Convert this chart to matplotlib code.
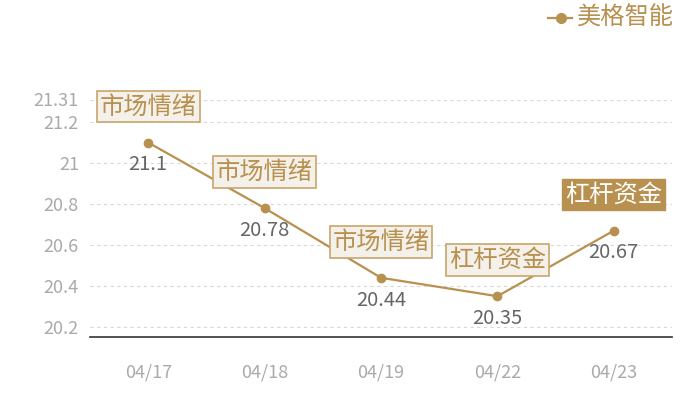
import matplotlib
matplotlib.use("Agg")
import matplotlib.pyplot as plt

plt.rcParams['font.family'] = ['Noto Sans CJK SC', 'DejaVu Sans']

# data
dates = ["04/17", "04/18", "04/19", "04/22", "04/23"]
prices = [21.1, 20.78, 20.44, 20.35, 20.67]
tags = ["市场情绪", "市场情绪", "市场情绪", "杠杆资金", "杠杆资金"]
highlight = [False, False, False, False, True]
yticks = [20.2, 20.4, 20.6, 20.8, 21, 21.2, 21.31]
ytick_labels = ["20.2", "20.4", "20.6", "20.8", "21", "21.2", "21.31"]
series_name = "美格智能"

gold = "#b8904f"

fig = plt.figure(figsize=(7, 4), dpi=100)
ax = fig.add_axes([90/700, 1-337/400, 582/700, 237.5/400])

x = list(range(len(dates)))
ax.plot(x, prices, color=gold, lw=1.6, marker="o", ms=6, mec=gold, mfc=gold, zorder=3)

ax.set_xlim(-0.5, len(dates) - 0.5)
ax.set_ylim(20.151, 21.31)
ax.set_yticks(yticks)
ax.set_yticklabels(ytick_labels)
ax.set_xticks(x)
ax.set_xticklabels(dates)
ax.tick_params(axis="y", length=0, pad=8, labelsize=13, labelcolor="#aaaaaa")
ax.tick_params(axis="x", length=0, pad=19, labelsize=13, labelcolor="#aaaaaa")

for yv in yticks:
    ax.axhline(yv, color="#d8d8d8", lw=0.8, ls=(0, (3, 3)), zorder=1)

for s in ["top", "right", "left"]:
    ax.spines[s].set_visible(False)
ax.spines["bottom"].set_color("#333333")
ax.spines["bottom"].set_linewidth(1.2)

for i, (p, t, h) in enumerate(zip(prices, tags, highlight)):
    ax.annotate(str(p), (i, p), xytext=(0, -16), textcoords="offset points",
                ha="center", va="center", fontsize=14.5, color="#666666", zorder=4)
    if h:
        box = dict(boxstyle="square,pad=0.12", fc=gold, ec=gold, lw=1)
        tc = "white"
    else:
        box = dict(boxstyle="square,pad=0.12", fc="#f4f0ea", ec="#c9a66c", lw=1.2)
        tc = gold
    ax.annotate(t, (i, p), xytext=(0, 26), textcoords="offset points",
                ha="center", va="center", fontsize=17.5, color=tc, bbox=box, zorder=5)

# legend
fig.lines.append(plt.Line2D([548/700, 572/700], [1-18/400, 1-18/400], color=gold, lw=1.6,
                            transform=fig.transFigure))
fig.lines.append(plt.Line2D([561/700], [1-18/400], color=gold, marker="o", ms=7,
                            transform=fig.transFigure))
fig.text(577/700, 1-18/400, series_name, color=gold, fontsize=17.5, ha="left", va="center")

fig.savefig("out.png", dpi=100, facecolor="white")
